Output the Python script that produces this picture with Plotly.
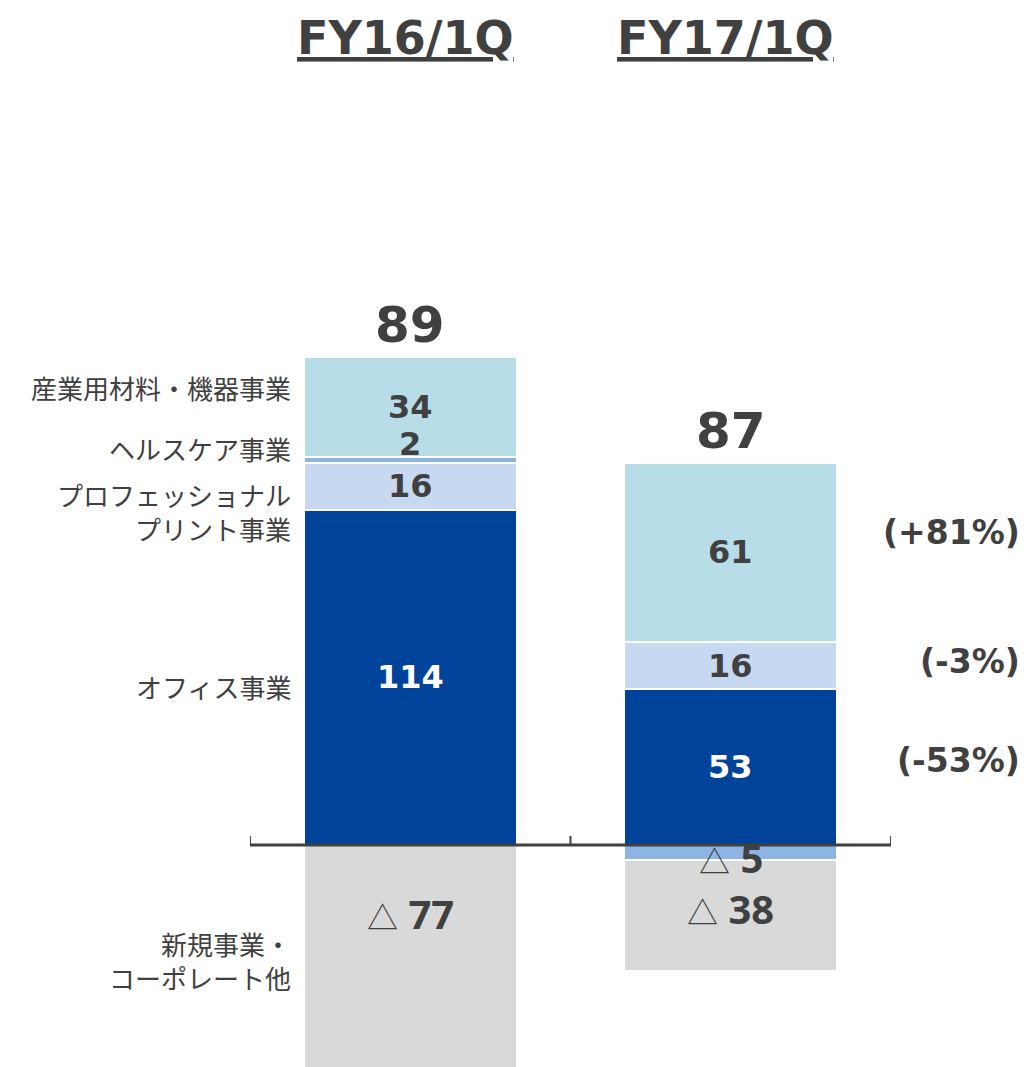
import plotly.graph_objects as go

# data (units: 100 million yen)
periods = ["FY16/1Q", "FY17/1Q"]
segments = ["オフィス事業", "プロフェッショナル<br>プリント事業", "ヘルスケア事業",
            "産業用材料・機器事業", "新規事業・<br>コーポレート他"]
office = [114, 53]
professional = [16, 16]
healthcare = [2, -5]
industrial = [34, 61]
corporate = [-77, -38]
totals = [89, 87]
growth = ["(-53%)", "(-3%)", "(+81%)"]  # FY17 vs FY16: office, professional, industrial

series = [office, professional, healthcare, industrial, corporate]
colors = ["#00439a", "#c6d9f1", "#8eb4e3", "#b7dde8", "#d9d9d9"]
label_colors = ["white", "#404040", "#404040", "#404040", "#404040"]
TXT = "#404040"

# page body keeps its default 8px margin, so the figure is 8px smaller
OFF = 8
W, H = 1028 - OFF, 1067 - OFF
PX_PER_UNIT = 2.94
ZERO_PX = 845 - OFF

x = list(range(len(periods)))
fig = go.Figure()
for name, vals, col in zip(segments, series, colors):
    fig.add_trace(go.Bar(
        x=x, y=vals, name=name, width=0.665,
        marker=dict(color=col, line=dict(color="white", width=2)),
        hoverinfo="skip", showlegend=False,
    ))

# segment centers as stacked in relative mode
centers = [[0.0] * len(x) for _ in series]
for j in range(len(x)):
    pos, neg = 0.0, 0.0
    for i, vals in enumerate(series):
        v = vals[j]
        if v >= 0:
            centers[i][j] = pos + v / 2
            pos += v
        else:
            centers[i][j] = neg + v / 2
            neg += v

# small offsets so labels sit where the original puts them
shift = {(2, 0): 16, (4, 0): 45, (4, 1): 7, (2, 1): -5}

annotations = []
for i, vals in enumerate(series):
    for j, v in enumerate(vals):
        if v >= 0:
            txt = f"<b>{v}</b>"
            fnt = dict(family="DejaVu Sans", size=32, color=label_colors[i])
        else:
            txt = (f"<span style='font-family:Noto Sans CJK JP;font-size:31px'>△</span>"
                   f" <b>{-v}</b>")
            fnt = dict(family="Noto Sans", size=40, color=TXT)
        annotations.append(dict(x=x[j], y=centers[i][j], xref="x", yref="y", text=txt,
                                showarrow=False, font=fnt, yshift=shift.get((i, j), 0)))

# totals above each bar
for j, t in enumerate(totals):
    top = sum(s[j] for s in series if s[j] > 0)
    annotations.append(dict(x=x[j], y=top, xref="x", yref="y", text=f"<b>{t}</b>",
                            showarrow=False, yanchor="bottom", yshift=1,
                            font=dict(family="DejaVu Sans", size=50, color=TXT)))

# period headings
for j, p in enumerate(periods):
    annotations.append(dict(x=x[j] - 0.015, y=1 - (38 - OFF) / H, xref="x", yref="paper",
                            text=f"<u><b>{p}</b></u>", showarrow=False, yanchor="middle",
                            font=dict(family="DejaVu Sans", size=46, color=TXT)))

# segment names on the left, next to the FY16 bar
left_shift = [-9, -25, 11, 19, -2]
for i, name in enumerate(segments):
    annotations.append(dict(x=(293 - OFF) / W, y=centers[i][0], xref="paper", yref="y",
                            text=name, showarrow=False, xanchor="right", align="right",
                            yshift=left_shift[i],
                            font=dict(family="Noto Sans CJK JP", size=26, color=TXT)))

# growth rates on the right, next to the FY17 bar
for k, (i, ys) in enumerate([(0, 7), (1, 4), (3, 20)]):
    annotations.append(dict(x=(1022 - OFF) / W, y=centers[i][1], xref="paper", yref="y",
                            text=f"<b>{growth[k]}</b>", showarrow=False, xanchor="right",
                            yshift=ys, font=dict(family="DejaVu Sans", size=33, color=TXT)))

# baseline with category separators
shapes = [dict(type="line", xref="x", yref="y", x0=-0.5, x1=len(x) - 0.5, y0=0, y1=0,
               line=dict(color=TXT, width=3), layer="above")]
for b in [k - 0.5 for k in range(len(x) + 1)]:
    shapes.append(dict(type="line", xref="x", yref="y", ysizemode="pixel", yanchor=0,
                       x0=b, x1=b, y0=0, y1=9, line=dict(color=TXT, width=2), layer="above"))

fig.update_layout(
    width=W, height=H,
    margin=dict(l=0, r=0, t=0, b=0),
    paper_bgcolor="white", plot_bgcolor="white",
    barmode="relative", bargap=0,
    annotations=annotations, shapes=shapes,
    xaxis=dict(domain=[(250 - OFF) / W, (891 - OFF) / W], range=[-0.5, len(x) - 0.5],
               visible=False, fixedrange=True),
    yaxis=dict(domain=[0, 1], range=[-(H - ZERO_PX) / PX_PER_UNIT, ZERO_PX / PX_PER_UNIT],
               visible=False, fixedrange=True),
)

fig.write_html("out.html")
